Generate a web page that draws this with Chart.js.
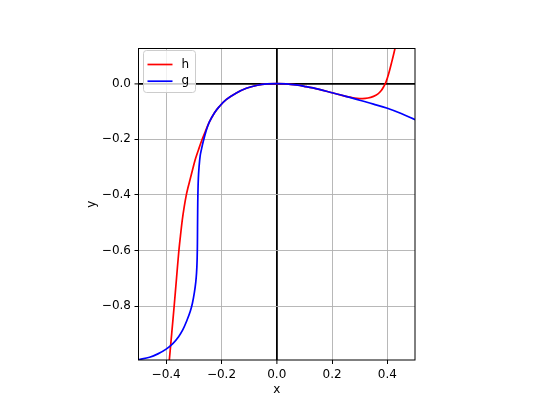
<!DOCTYPE html>
<html><head><meta charset="utf-8">
<script src="https://cdn.jsdelivr.net/npm/chart.js@4/dist/chart.umd.min.js"></script>
<style>html,body{margin:0;padding:0;background:#fff}</style>
</head><body>
<canvas id="c" width="540" height="405" style="width:540px;height:405px;display:block"></canvas>
<script>
const hX=[-0.3935,-0.3886,-0.38,-0.371,-0.3625,-0.3548,-0.3485,-0.3416,-0.335,-0.327,-0.3207,-0.3137,-0.3045,-0.295,-0.283,-0.271,-0.258,-0.244,-0.225,-0.208,-0.183,-0.146,-0.11,-0.07,-0.035,0,0.035,0.07,0.1,0.15,0.2,0.25,0.27,0.29,0.31,0.33,0.35,0.365,0.378,0.388,0.395,0.405,0.416,0.428,0.437];
const hY=[-1.05,-0.995,-0.90,-0.80,-0.70,-0.61,-0.55,-0.49,-0.445,-0.40,-0.373,-0.346,-0.31,-0.274,-0.238,-0.204,-0.172,-0.139,-0.105,-0.083,-0.058,-0.034,-0.017,-0.006,-0.001,0,-0.001,-0.005,-0.01,-0.02,-0.033,-0.046,-0.05,-0.053,-0.054,-0.052,-0.046,-0.038,-0.025,-0.009,0.005,0.036,0.078,0.128,0.172];
const gX=[-0.5,-0.46,-0.43,-0.40,-0.375,-0.355,-0.34,-0.325,-0.313,-0.305,-0.298,-0.293,-0.29,-0.288,-0.287,-0.2865,-0.286,-0.2852,-0.2835,-0.281,-0.277,-0.272,-0.265,-0.256,-0.244,-0.225,-0.208,-0.183,-0.146,-0.11,-0.07,-0.035,0,0.035,0.07,0.1,0.15,0.2,0.25,0.3,0.35,0.4,0.45,0.5];
const gY=[-0.993,-0.984,-0.972,-0.955,-0.934,-0.91,-0.886,-0.852,-0.82,-0.79,-0.752,-0.715,-0.68,-0.634,-0.58,-0.52,-0.46,-0.40,-0.34,-0.30,-0.26,-0.235,-0.205,-0.172,-0.139,-0.105,-0.083,-0.058,-0.034,-0.017,-0.006,-0.001,0,-0.001,-0.005,-0.01,-0.02,-0.033,-0.046,-0.060,-0.074,-0.089,-0.108,-0.13];
const xTicks=[-0.4,-0.2,0,0.2,0.4];
const yTicks=[-0.8,-0.6,-0.4,-0.2,0];
const xRange=[-0.5,0.5];
const yRange=[-0.994,0.126];
const seriesNames=['h','g'];
const seriesColors=['#ff0000','#0000ff'];

const FONT='"DejaVu Sans", sans-serif';
const fmt=v=>(v<0?'\u2212':'')+Math.abs(v).toFixed(1);
const pts=(xs,ys)=>xs.map((x,i)=>({x:x,y:ys[i]}));

const frame={
  id:'frame',
  afterDatasetsDraw(chart){
    const {ctx,chartArea:a}=chart;
    ctx.save();
    ctx.strokeStyle='#000';ctx.lineWidth=1;
    ctx.strokeRect(a.left,a.top,a.right-a.left,a.bottom-a.top);
    ctx.restore();
  },
  afterDraw(chart){
    const {ctx,chartArea:a}=chart;
    ctx.save();
    const bx=a.left+5,by=a.top+2,bw=52,bh=42,r=3;
    ctx.beginPath();
    ctx.moveTo(bx+r,by);ctx.lineTo(bx+bw-r,by);ctx.quadraticCurveTo(bx+bw,by,bx+bw,by+r);
    ctx.lineTo(bx+bw,by+bh-r);ctx.quadraticCurveTo(bx+bw,by+bh,bx+bw-r,by+bh);
    ctx.lineTo(bx+r,by+bh);ctx.quadraticCurveTo(bx,by+bh,bx,by+bh-r);
    ctx.lineTo(bx,by+r);ctx.quadraticCurveTo(bx,by,bx+r,by);ctx.closePath();
    ctx.fillStyle='rgba(255,255,255,0.8)';ctx.fill();
    ctx.strokeStyle='#cccccc';ctx.lineWidth=1;ctx.stroke();
    ctx.font='12px '+FONT;ctx.textBaseline='middle';ctx.textAlign='left';
    seriesNames.forEach((n,i)=>{
      const y=by+14+i*16.7;
      ctx.strokeStyle=seriesColors[i];ctx.lineWidth=1.7;
      ctx.beginPath();ctx.moveTo(bx+4,y);ctx.lineTo(bx+29,y);ctx.stroke();
      ctx.fillStyle='#000';ctx.fillText(n,bx+38,y);
    });
    ctx.restore();
  }
};

new Chart(document.getElementById('c'),{
  type:'scatter',
  data:{datasets:[
    {label:seriesNames[0],data:pts(hX,hY),showLine:true,borderColor:seriesColors[0],borderWidth:1.7,pointRadius:0,tension:0.35,order:1},
    {label:seriesNames[1],data:pts(gX,gY),showLine:true,borderColor:seriesColors[1],borderWidth:1.7,pointRadius:0,tension:0.35,order:0}
  ]},
  options:{
    responsive:false,animation:false,
    layout:{padding:{left:80,top:48.5,right:125,bottom:4}},
    plugins:{legend:{display:false},tooltip:{enabled:false}},
    scales:{
      x:{type:'linear',min:xRange[0],max:xRange[1],
        afterBuildTicks:s=>{s.ticks=xTicks.map(v=>({value:v}));},
        afterFit:s=>{s.height=41;},
        border:{display:false},
        grid:{color:c=>(c.tick&&c.tick.value===0)?'#000':'#b0b0b0',lineWidth:c=>(c.tick&&c.tick.value===0)?1.8:0.9,tickColor:'#000',tickLength:4,tickWidth:1},
        ticks:{callback:fmt,color:'#000',font:{family:FONT,size:12},padding:3.5,maxRotation:0},
        title:{display:true,text:'x',color:'#000',font:{family:FONT,size:12},padding:{top:0,bottom:3.8}}
      },
      y:{type:'linear',min:yRange[0],max:yRange[1],
        afterBuildTicks:s=>{s.ticks=yTicks.map(v=>({value:v}));},
        afterFit:s=>{s.width=58.5;},
        border:{display:false},
        grid:{color:c=>(c.tick&&c.tick.value===0)?'#000':'#b0b0b0',lineWidth:c=>(c.tick&&c.tick.value===0)?1.8:0.9,tickColor:'#000',tickLength:4,tickWidth:1},
        ticks:{callback:fmt,color:'#000',font:{family:FONT,size:12},padding:3.5},
        title:{display:true,text:'y',color:'#000',font:{family:FONT,size:12},padding:{top:4.8,bottom:0}}
      }
    }
  },
  plugins:[frame]
});
</script>
</body></html>
